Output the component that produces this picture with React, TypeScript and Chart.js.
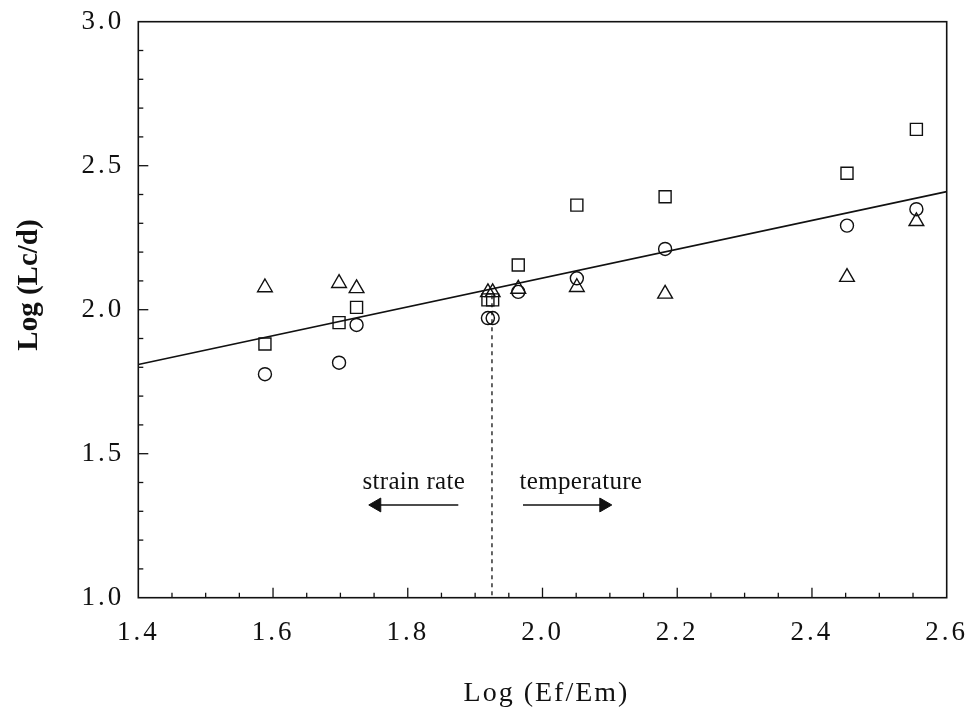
import React, { useEffect, useRef } from 'react';
import { Chart, registerables } from 'chart.js';

Chart.register(...registerables);

const FONT = '"Liberation Serif", "Times New Roman", Times, serif';
const INK = '#111111';

// Axis ranges and tick steps
const xRange = [1.4, 2.6];
const yRange = [1.0, 3.0];
const xMajorStep = 0.2;
const yMajorStep = 0.5;
const xMinorStep = 0.05;
const yMinorStep = 0.1;

// Series: squares
const squaresX = [1.588, 1.698, 1.724, 1.919, 1.926, 1.964, 2.051, 2.182, 2.452, 2.555];
const squaresY = [1.881, 1.955, 2.008, 2.034, 2.034, 2.155, 2.363, 2.392, 2.474, 2.626];
// Series: circles
const circlesX = [1.588, 1.698, 1.724, 1.919, 1.926, 1.964, 2.051, 2.182, 2.452, 2.555];
const circlesY = [1.776, 1.816, 1.947, 1.971, 1.971, 2.062, 2.109, 2.211, 2.292, 2.349];
// Series: triangles
const trianglesX = [1.588, 1.698, 1.724, 1.919, 1.926, 1.964, 2.051, 2.182, 2.452, 2.555];
const trianglesY = [2.077, 2.092, 2.074, 2.060, 2.060, 2.072, 2.078, 2.055, 2.113, 2.307];

// Regression line
const fitX = [1.4, 2.6];
const fitY = [1.81, 2.41];

// Dashed divider
const dividerX = [1.925, 1.925];
const dividerY = [2.05, 1.0];

// Annotations
const annotationLabels = ['strain rate', 'temperature'];
const annotationX = [1.809, 2.057];
const annotationY = [1.376, 1.376];
const arrowStartX = [1.875, 1.971];
const arrowHeadX = [1.754, 2.091];
const arrowY = [1.322, 1.322];
const arrowRotation = [-90, 90];

// Axis titles
const xTitle = 'Log (Ef/Em)';
const yTitle = 'Log (Lc/d)';

const pts = (xs: number[], ys: number[]) => xs.map((x, i) => ({ x, y: ys[i] }));

const TICK_SPACING = '3px';

export default function App() {
  const ref = useRef<HTMLCanvasElement | null>(null);

  useEffect(() => {
    const canvas = ref.current;
    if (!canvas) return;

    const deco = {
      id: 'deco',
      beforeUpdate(chart: any) {
        chart.ctx.letterSpacing = TICK_SPACING;
      },
      beforeDraw(chart: any) {
        chart.ctx.letterSpacing = TICK_SPACING;
      },
      afterDraw(chart: any) {
        const { ctx, chartArea: a, scales } = chart;
        const xs = scales.x;
        const ys = scales.y;
        ctx.save();
        ctx.strokeStyle = INK;
        ctx.lineWidth = 1.3;
        // inward ticks on x axis
        const nx = Math.round((xRange[1] - xRange[0]) / xMinorStep);
        const xPer = Math.round(xMajorStep / xMinorStep);
        for (let i = 1; i < nx; i++) {
          const px = xs.getPixelForValue(xRange[0] + i * xMinorStep);
          const len = i % xPer === 0 ? 10 : 5;
          ctx.beginPath();
          ctx.moveTo(px, a.bottom);
          ctx.lineTo(px, a.bottom - len);
          ctx.stroke();
        }
        // inward ticks on y axis
        const ny = Math.round((yRange[1] - yRange[0]) / yMinorStep);
        const yPer = Math.round(yMajorStep / yMinorStep);
        for (let j = 1; j < ny; j++) {
          const py = ys.getPixelForValue(yRange[0] + j * yMinorStep);
          const len = j % yPer === 0 ? 10 : 5;
          ctx.beginPath();
          ctx.moveTo(a.left, py);
          ctx.lineTo(a.left + len, py);
          ctx.stroke();
        }
        // frame
        ctx.lineWidth = 1.6;
        ctx.strokeRect(a.left, a.top, a.right - a.left, a.bottom - a.top);

        ctx.fillStyle = INK;
        // x title
        ctx.letterSpacing = '2px';
        ctx.font = `28px ${FONT}`;
        ctx.textAlign = 'center';
        ctx.textBaseline = 'alphabetic';
        ctx.fillText(xTitle, (a.left + a.right) / 2 + 4, 701);
        // y title
        ctx.letterSpacing = '0px';
        ctx.save();
        ctx.translate(30, 285);
        ctx.rotate(-Math.PI / 2);
        ctx.font = `bold 29px ${FONT}`;
        ctx.textAlign = 'center';
        ctx.textBaseline = 'middle';
        ctx.fillText(yTitle, 0, 0);
        ctx.restore();
        // annotations
        ctx.letterSpacing = '0.3px';
        ctx.font = `25px ${FONT}`;
        ctx.textAlign = 'center';
        ctx.textBaseline = 'alphabetic';
        annotationLabels.forEach((t, i) => {
          ctx.fillText(t, xs.getPixelForValue(annotationX[i]), ys.getPixelForValue(annotationY[i]));
        });
        ctx.restore();
        ctx.letterSpacing = TICK_SPACING;
      },
    };

    const markerBase = {
      type: 'scatter' as const,
      showLine: false,
      borderColor: INK,
      backgroundColor: 'rgba(0,0,0,0)',
      borderWidth: 1.4,
    };

    const arrowSets = arrowStartX.map((sx, i) => ({
      type: 'line' as const,
      data: [
        { x: sx, y: arrowY[i] },
        { x: arrowHeadX[i], y: arrowY[i] },
      ],
      showLine: true,
      borderColor: INK,
      borderWidth: 1.6,
      pointStyle: 'triangle',
      pointRadius: [0, 8],
      pointRotation: [0, arrowRotation[i]],
      pointBackgroundColor: INK,
      pointBorderColor: INK,
      pointBorderWidth: 1,
      tension: 0,
    }));

    const chart = new Chart(canvas, {
      type: 'scatter',
      data: {
        datasets: [
          {
            type: 'line',
            data: pts(fitX, fitY),
            showLine: true,
            borderColor: INK,
            borderWidth: 1.6,
            pointRadius: 0,
            tension: 0,
          } as any,
          {
            type: 'line',
            data: pts(dividerX, dividerY),
            showLine: true,
            borderColor: INK,
            borderWidth: 1.3,
            borderDash: [4, 4],
            pointRadius: 0,
            tension: 0,
          } as any,
          ...(arrowSets as any[]),
          { ...markerBase, data: pts(squaresX, squaresY), pointStyle: 'rect', pointRadius: 8.5 } as any,
          { ...markerBase, data: pts(circlesX, circlesY), pointStyle: 'circle', pointRadius: 6.5 } as any,
          { ...markerBase, data: pts(trianglesX, trianglesY), pointStyle: 'triangle', pointRadius: 8.5 } as any,
        ],
      },
      options: {
        animation: false,
        responsive: false,
        maintainAspectRatio: false,
        events: [],
        layout: { padding: { top: 21.7, right: 21.3, left: 0, bottom: 0 } },
        plugins: { legend: { display: false }, tooltip: { enabled: false } },
        scales: {
          x: {
            type: 'linear',
            min: xRange[0],
            max: xRange[1],
            grid: { display: false, drawTicks: false },
            border: { display: false },
            ticks: {
              stepSize: xMajorStep,
              padding: 19,
              color: INK,
              font: { family: FONT, size: 27 },
              callback: (v: any) => Number(v).toFixed(1),
            },
            afterFit: (s: any) => {
              s.height = 708 - 597.7;
              s.paddingLeft = 0;
              s.paddingRight = 0;
            },
          },
          y: {
            type: 'linear',
            min: yRange[0],
            max: yRange[1],
            grid: { display: false, drawTicks: false },
            border: { display: false },
            ticks: {
              stepSize: yMajorStep,
              padding: 14,
              color: INK,
              font: { family: FONT, size: 27 },
              callback: (v: any) => Number(v).toFixed(1),
            },
            afterFit: (s: any) => {
              s.width = 138.3;
              s.paddingTop = 0;
              s.paddingBottom = 0;
            },
          },
        },
      } as any,
      plugins: [deco],
    });

    return () => chart.destroy();
  }, []);

  return (
    <div style={{ position: 'fixed', left: 0, top: 0, width: 968, height: 708, background: '#fff' }}>
      <canvas ref={ref} width={968} height={708} style={{ display: 'block', width: 968, height: 708 }} />
    </div>
  );
}
